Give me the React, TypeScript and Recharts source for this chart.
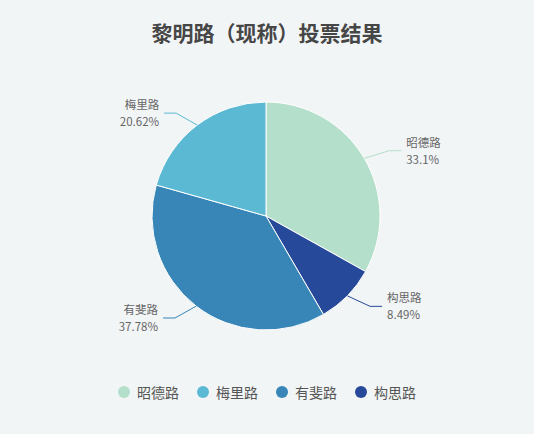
import { PieChart, Pie, Cell, Legend } from 'recharts';

const roads = ['昭德路', '构思路', '有斐路', '梅里路'];
const shares = [33.1, 8.49, 37.78, 20.62];
const colors = ['#b4dfca', '#26499a', '#3886b8', '#5bb9d3'];
const legendOrder = ['昭德路', '梅里路', '有斐路', '构思路'];

const data = roads.map((name, i) => ({ name, value: shares[i] }));
const RAD = Math.PI / 180;
const FONT = '"Noto Sans CJK SC", "Noto Sans", sans-serif';

// two-line label (name / percent) with a bent leader line
const renderLabel = (props: any) => {
	const { cx, cy, midAngle, outerRadius, index, name } = props;
	const cos = Math.cos(-midAngle * RAD);
	const sin = Math.sin(-midAngle * RAD);
	const sign = cos >= 0 ? 1 : -1;
	const x1 = cx + outerRadius * cos;
	const y1 = cy + outerRadius * sin;
	const x2 = cx + (outerRadius + 15) * cos + sign * 12;
	const y2 = cy + (outerRadius + 15) * sin;
	const x3 = x2 + sign * 12;
	const tx = x3 + sign * 5;
	const anchor = sign > 0 ? 'start' : 'end';
	return (
		<g>
			<polyline points={`${x1},${y1} ${x2},${y2} ${x3},${y2}`} fill="none" stroke={colors[index]} strokeWidth={1} />
			<text x={tx} y={y2 - 4} textAnchor={anchor} fill="#666" fontSize={11.5} fontFamily={FONT}>
				<tspan x={tx}>{name}</tspan>
				<tspan x={tx} dy={17}>{`${shares[index]}%`}</tspan>
			</text>
		</g>
	);
};

const renderLegend = () => (
	<div style={{ display: 'flex', justifyContent: 'center', gap: 18, fontFamily: FONT, fontSize: 14, color: '#555' }}>
		{legendOrder.map((name) => (
			<div key={name} style={{ display: 'flex', alignItems: 'center' }}>
				<span style={{ width: 12, height: 12, borderRadius: 6, background: colors[roads.indexOf(name)], marginRight: 7 }} />
				{name}
			</div>
		))}
	</div>
);

export default function App() {
	return (
		<div style={{ position: 'absolute', left: 0, top: 0, width: 534, height: 434, background: '#f2f5f6' }}>
			<div style={{ position: 'absolute', top: 17, width: 534, textAlign: 'center', fontFamily: FONT, fontWeight: 'bold', fontSize: 21, color: '#464646' }}>
				黎明路（现称）投票结果
			</div>
			<PieChart width={534} height={434} margin={{ top: 0, right: 0, bottom: 0, left: 0 }} style={{ position: 'absolute', left: 0, top: 0 }}>
				<Pie
					data={data}
					dataKey="value"
					nameKey="name"
					cx={266}
					cy={216}
					outerRadius={114}
					startAngle={90}
					endAngle={-270}
					stroke="#fff"
					strokeWidth={1}
					label={renderLabel}
					labelLine={false}
					isAnimationActive={false}
				>
					{data.map((d, i) => (
						<Cell key={d.name} fill={colors[i]} />
					))}
				</Pie>
				<Legend content={renderLegend} verticalAlign="bottom" wrapperStyle={{ top: 382, bottom: 'auto', left: 0, width: 534 }} />
			</PieChart>
		</div>
	);
}
